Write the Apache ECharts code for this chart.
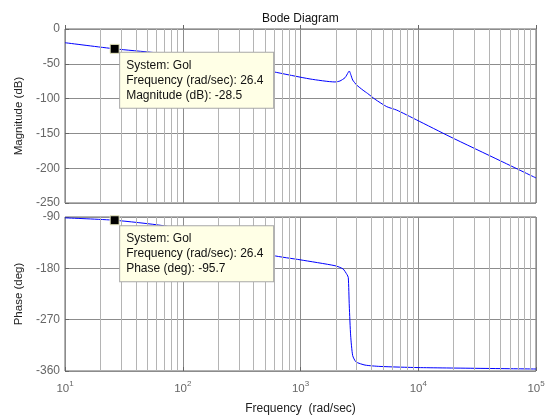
<!DOCTYPE html>
<html>
<head>
<meta charset="utf-8">
<script src="https://cdn.jsdelivr.net/npm/echarts@6/dist/echarts.min.js"></script>
<style>html,body{margin:0;padding:0;background:#fff}#c{width:549px;height:416px}</style>
</head>
<body>
<div id="c"></div>
<script>
// ---- data ----
var magFreq = [10, 26.4, 58, 100, 200, 350, 583, 1205, 1963, 2163, 2387, 2546, 2596, 2668, 2775, 3000, 3400, 3700, 4300, 5400, 6560, 9700, 18600, 50000, 100000];
var magDb   = [-19.7, -28.5, -34, -39.2, -46.8, -53.3, -61.3, -71.8, -76.1, -74.7, -70, -62.2, -60.3, -65.1, -73.3, -80.5, -88, -92.4, -101, -111.6, -116.5, -130.7, -154.7, -189.5, -214];
var phFreq  = [10, 26.4, 68, 150, 300, 583, 990, 1963, 2297, 2483, 2546, 2596, 2668, 2775, 2960, 3530, 4730, 10000, 100000];
var phDeg   = [-91.5, -95.7, -105.2, -120.5, -139.5, -157.4, -165, -175.4, -181, -191, -196, -246, -298.5, -333, -344, -349.6, -352, -354, -356.5];
var magTicks = {min: -250, max: 0, interval: 50};
var phTicks  = {min: -360, max: -90, interval: 90};
var tipFreq = 26.4, tipMag = -28.5, tipPh = -95.7;

function pairs(xs, ys){ return xs.map(function(x,i){ return [x, ys[i]]; }); }
var minorLines = [];
for (var d = 10; d < 100000; d *= 10) { for (var k = 2; k <= 9; k++) minorLines.push({xAxis: k*d}); }

var FONT = 'Liberation Sans, Arial, Helvetica, sans-serif';
var chart = echarts.init(document.getElementById('c'), null, {renderer: 'canvas'});

function xAx(idx, showLabels){
  return {
    gridIndex: idx, type: 'log', logBase: 10, min: 10, max: 100000,
    axisLine: {show: false},
    axisTick: {show: true, inside: true, length: 4, lineStyle: {color: '#666'}},
    splitLine: {show: true, lineStyle: {color: '#8c8c8c', width: 1}},
    axisLabel: {
      show: showLabels, margin: 9, fontFamily: FONT,
      formatter: function(v){ return '{b|10}{s|' + Math.round(Math.log10(v)) + '}'; },
      rich: {
        b: {fontSize: 11.5, color: '#666', fontFamily: FONT},
        s: {fontSize: 8, color: '#666', fontFamily: FONT, padding: [0, 0, 10, 0]}
      }
    },
    name: showLabels ? 'Frequency  (rad/sec)' : '',
    nameLocation: 'middle', nameGap: 32,
    nameTextStyle: {fontSize: 12, color: '#222', fontFamily: FONT}
  };
}
function yAx(idx, t, name){
  return {
    gridIndex: idx, type: 'value', min: t.min, max: t.max, interval: t.interval,
    axisLine: {show: false},
    axisTick: {show: true, inside: true, length: 4, lineStyle: {color: '#666'}},
    splitLine: {show: true, lineStyle: {color: '#8c8c8c', width: 1}},
    axisLabel: {margin: 5, fontSize: 12, color: '#666', fontFamily: FONT},
    name: name, nameLocation: 'middle', nameGap: 34,
    nameTextStyle: {fontSize: 11.5, color: '#222', fontFamily: FONT}
  };
}
function tipLabel(text, dy){
  return {
    show: true, position: [10.5, dy], align: 'left', verticalAlign: 'top',
    formatter: text, fontSize: 12, lineHeight: 15, color: '#111', fontFamily: FONT,
    backgroundColor: '#ffffe6', borderColor: '#a8a8a8', borderWidth: 1,
    padding: [5, 7, 5, 6], width: 140
  };
}
function gridSeries(idx){
  return {
    type: 'line', xAxisIndex: idx, yAxisIndex: idx, data: [], z: 1, silent: true,
    markLine: {silent: true, symbol: 'none', animation: false, label: {show: false},
      lineStyle: {color: '#b4b4b4', width: 1, type: 'solid'}, data: minorLines}
  };
}
function tipSeries(idx, y, text, dy){
  return {
    type: 'line', xAxisIndex: idx, yAxisIndex: idx, data: [], z: 10, silent: true,
    markPoint: {animation: false, symbol: 'rect', symbolSize: 9,
      itemStyle: {color: '#000', borderColor: '#e8e8c0', borderWidth: 1},
      data: [{coord: [tipFreq, y], label: tipLabel(text, dy)}]}
  };
}

chart.setOption({
  animation: false,
  backgroundColor: '#fff',
  title: {text: 'Bode Diagram', left: 257, top: 8,
    textStyle: {fontSize: 12, fontWeight: 'normal', color: '#111', fontFamily: FONT}},
  grid: [
    {left: 65, top: 29, width: 471, height: 174, show: true, borderColor: '#666', borderWidth: 1},
    {left: 65, top: 217, width: 471, height: 155, show: true, borderColor: '#666', borderWidth: 1}
  ],
  xAxis: [xAx(0, false), xAx(1, true)],
  yAxis: [yAx(0, magTicks, 'Magnitude (dB)'), yAx(1, phTicks, 'Phase (deg)')],
  series: [
    gridSeries(0), gridSeries(1),
    {type: 'line', xAxisIndex: 0, yAxisIndex: 0, data: pairs(magFreq, magDb), showSymbol: false, z: 3,
      lineStyle: {color: '#0000ff', width: 1}, smooth: 0.2},
    {type: 'line', xAxisIndex: 1, yAxisIndex: 1, data: pairs(phFreq, phDeg), showSymbol: false, z: 3,
      lineStyle: {color: '#0000ff', width: 1}, smooth: 0.2},
    tipSeries(0, tipMag, 'System: Gol\nFrequency (rad/sec): ' + tipFreq + '\nMagnitude (dB): ' + tipMag, 9),
    tipSeries(1, tipPh, 'System: Gol\nFrequency (rad/sec): ' + tipFreq + '\nPhase (deg): ' + tipPh, 10.9)
  ]
});
</script>
</body>
</html>
